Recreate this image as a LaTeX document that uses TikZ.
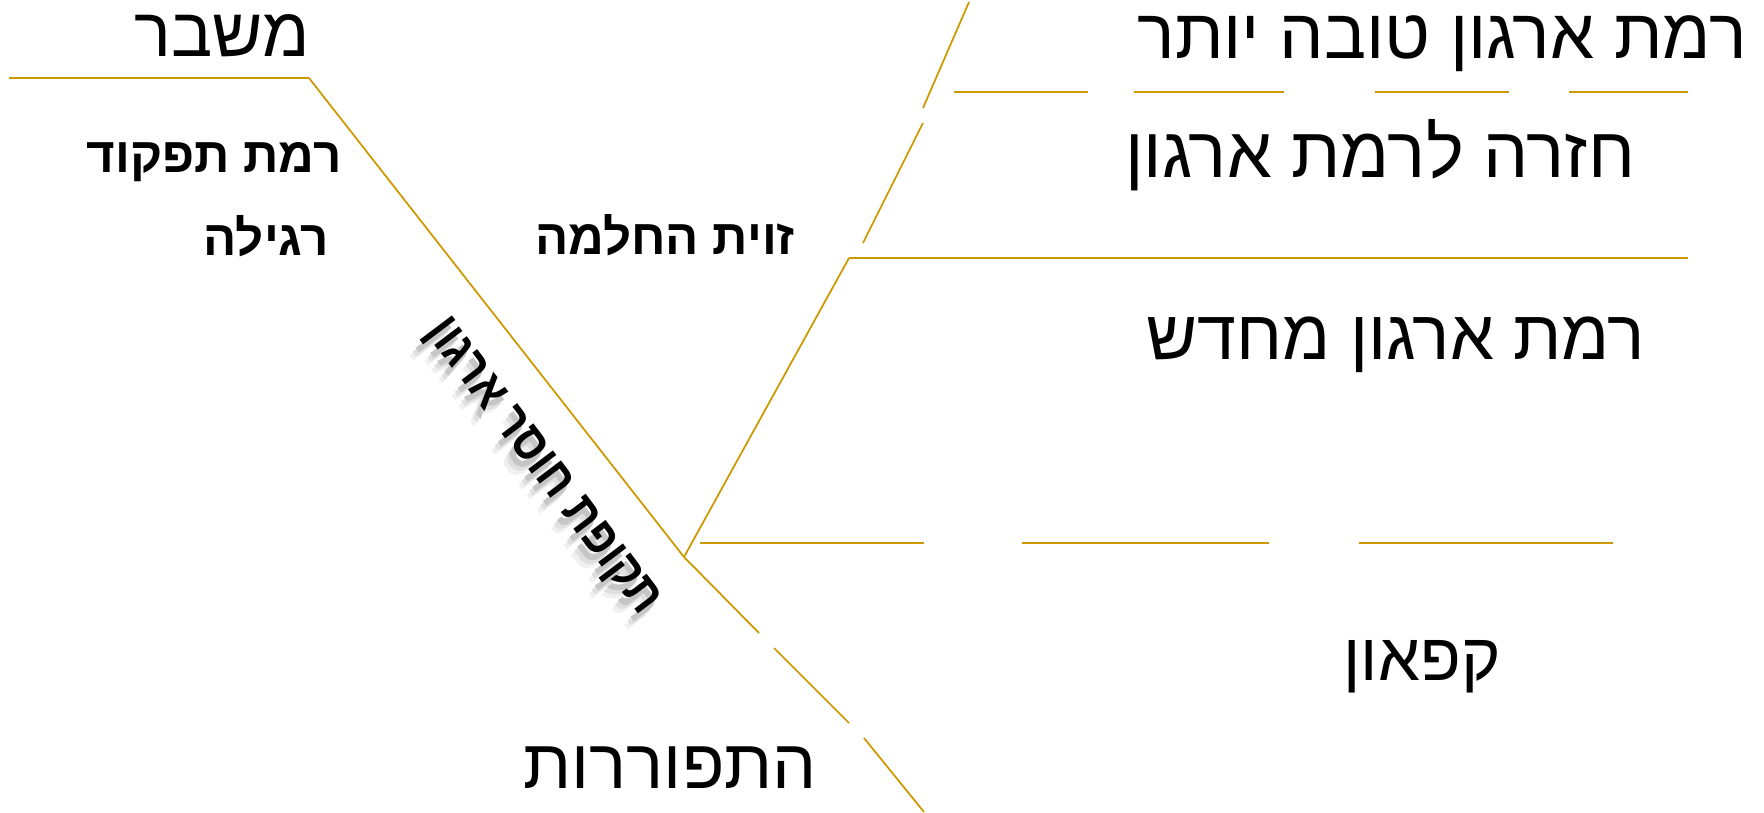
\documentclass[tikz,border=0pt]{standalone}
\usepackage{fontspec}
\TeXXeTstate=1
\newfontfamily\heb[Script=Hebrew]{Liberation Sans}
\definecolor{gold}{RGB}{204,153,0}
\tikzset{
  hline/.style={draw=gold, line width=0.6pt},
  dline/.style={draw=gold, line width=0.5pt},
  big/.style={font=\heb\fontsize{#1}{22}\selectfont, inner sep=0pt, anchor=base},
  big/.default=19.8,
  bld/.style={font=\heb\bfseries\fontsize{14}{17}\selectfont, inner sep=0pt, anchor=base},
  rot/.style={font=\heb\bfseries\fontsize{14.5}{17}\selectfont, inner sep=0pt, rotate=-53},
}
\newcommand{\rottext}{\scalebox{0.86}[1]{\beginR תקופת חוסר ארגון\endR}}
\begin{document}
\begin{tikzpicture}[x=0.01cm,y=-0.01cm]
\useasboundingbox (0,0) rectangle (1764,812);
% key points
\coordinate (L) at (9,78);
\coordinate (A) at (309,78);
\coordinate (V) at (684,557);
\coordinate (B) at (849,258);
\coordinate (R) at (1688,258);
% solid lines
\draw[hline] (L) -- (A);
\draw[dline] (A) -- (V);
\draw[dline] (V) -- (B);
\draw[hline] (B) -- (R);
% dashed lower-right line
\draw[dline] (V) -- (759,633);
\draw[dline] (774,648) -- (849,723);
\draw[dline] (864,738) -- (924,812);
% dashed upward line
\draw[dline] (863,243) -- (923,123);
\draw[dline] (923,108) -- (969,2);
% top dashed horizontal
\draw[hline] (954,92) -- (1088,92);
\draw[hline] (1134,92) -- (1284,92);
\draw[hline] (1375,92) -- (1509,92);
\draw[hline] (1569,92) -- (1688,92);
% bottom dashed horizontal
\draw[hline] (700,543) -- (924,543);
\draw[hline] (1022,543) -- (1269,543);
\draw[hline] (1359,543) -- (1613,543);
% texts
\node[big=19.6] (mashber) at (222,56) {\beginR משבר\endR};
\node[bld] (ramat) at (214,172) {\beginR רמת תפקוד\endR};
\node[bld] (regila) at (266,255) {\beginR רגילה\endR};
\node[bld] (zavit) at (665,254) {\beginR זוית החלמה\endR};
\node[big=20] (tova) at (1442,58) {\beginR רמת ארגון טובה יותר\endR};
\node[big=20.3] (hazara) at (1380,177) {\beginR חזרה לרמת ארגון\endR};
\node[big=19.9] (mehadash) at (1396,359) {\beginR רמת ארגון מחדש\endR};
\node[big=19] (kipaon) at (1422,680) {\beginR קפאון\endR};
\node[big=19.8] (hitporerut) at (670,788) {\beginR התפוררות\endR};
% rotated text with soft shadow
\node[rot, text=gray!12] at (531,484) {\rottext};
\node[rot, text=gray!25] at (534,480) {\rottext};
\node[rot, text=gray!45] at (537,476) {\rottext};
\node[rot] (tkufa) at (541,468) {\rottext};
\end{tikzpicture}
\end{document}
